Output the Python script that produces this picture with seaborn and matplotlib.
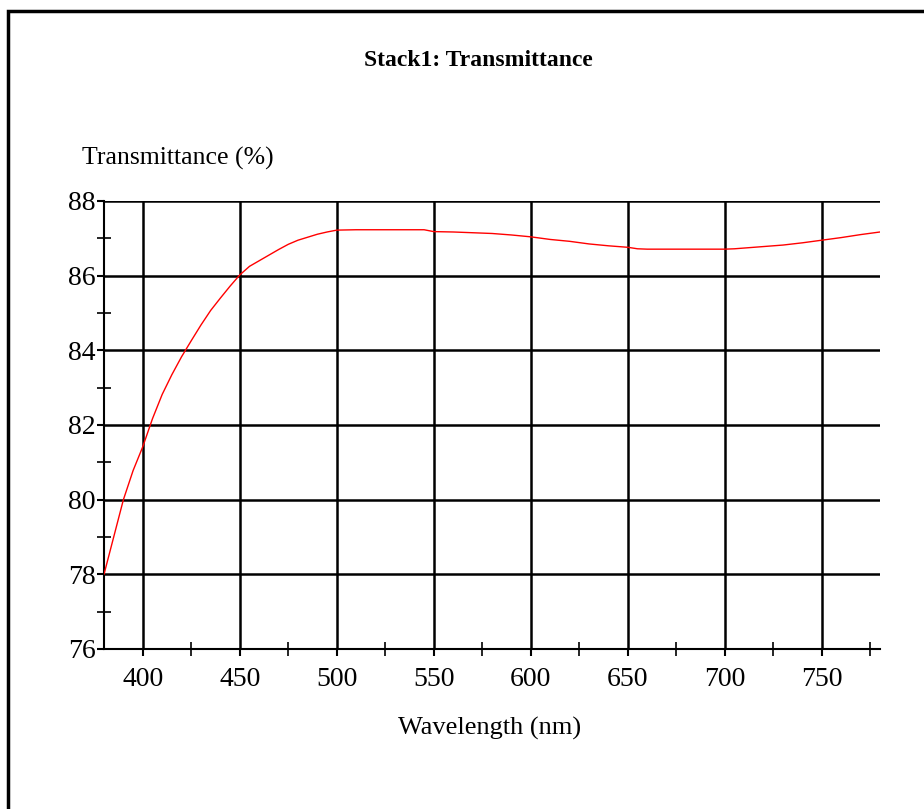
import numpy as np
import pandas as pd
import matplotlib
matplotlib.use("Agg")
import matplotlib.pyplot as plt
from matplotlib.patches import Rectangle
from matplotlib.ticker import MultipleLocator
import seaborn as sns

# transmittance spectrum
wavelength = [380, 385, 390, 395, 400, 405, 410, 415, 420, 425, 430, 435, 440, 445,
              450, 455, 460, 465, 470, 475, 480, 485, 490, 495, 500, 510, 520, 530,
              540, 545, 550, 560, 570, 580, 590, 600, 610, 620, 630, 640, 650, 655,
              660, 670, 680, 690, 700, 705, 710, 720, 730, 740, 750, 760, 770, 780]
transmittance = [78.0, 79.0, 80.0, 80.78, 81.42, 82.17, 82.82, 83.35, 83.83, 84.26,
                 84.68, 85.07, 85.4, 85.72, 86.02, 86.25, 86.4, 86.55, 86.7, 86.84,
                 86.95, 87.03, 87.11, 87.17, 87.22, 87.23, 87.23, 87.23, 87.23, 87.23,
                 87.18, 87.17, 87.15, 87.13, 87.09, 87.04, 86.97, 86.92, 86.85, 86.8,
                 86.76, 86.72, 86.71, 86.71, 86.71, 86.71, 86.71, 86.72, 86.74, 86.78,
                 86.82, 86.88, 86.95, 87.02, 87.1, 87.17]

title = "Stack1: Transmittance"
xlabel = "Wavelength (nm)"
ylabel = "Transmittance (%)"

sns.set_style("white")
plt.rcParams["font.family"] = ["Liberation Serif", "DejaVu Serif"]
plt.rcParams["text.color"] = "black"
plt.rcParams["xtick.color"] = "black"
plt.rcParams["ytick.color"] = "black"

df = pd.DataFrame({"wl": wavelength, "T": transmittance})

fig = plt.figure(figsize=(9.24, 8.09), dpi=100)
ax = fig.add_axes([104 / 924, 1 - 649 / 809, 776 / 924, 448 / 809])

sns.lineplot(data=df, x="wl", y="T", ax=ax, color="red", linewidth=1.0, zorder=3)

ax.set_xlim(380, 780)
ax.set_ylim(76, 88)
ax.xaxis.set_major_locator(MultipleLocator(50))
ax.xaxis.set_minor_locator(MultipleLocator(25))
ax.yaxis.set_major_locator(MultipleLocator(2))
ax.yaxis.set_minor_locator(MultipleLocator(1))

ax.grid(True, which="major", color="black", linewidth=1.8)
ax.set_axisbelow(True)

for side in ["top", "right"]:
    ax.spines[side].set_visible(False)
for side in ["left", "bottom"]:
    ax.spines[side].set_color("black")
    ax.spines[side].set_linewidth(1.5)

ax.tick_params(which="both", bottom=True, left=True, top=False, right=False)
ax.tick_params(which="major", direction="out", length=5, width=1.5, color="black",
               labelsize=20, labelcolor="black")
ax.tick_params(which="minor", direction="inout", length=10, width=1.2, color="black")
ax.tick_params(axis="x", which="major", pad=8)
ax.tick_params(axis="y", which="major", pad=1)

ax.set_xlabel("")
ax.set_ylabel("")

fig.text(490 / 924, 1 - 728 / 809, xlabel, ha="center", va="center", fontsize=19)
fig.text(82 / 924, 1 - 158 / 809, ylabel, ha="left", va="center", fontsize=18.5)
fig.text(478 / 924, 1 - 60 / 809, title, ha="center", va="center", fontsize=17,
         fontweight="bold")

# page frame, only left and top edges fall inside the image
fig.patches.append(Rectangle((8 / 924, -0.1), 1.2, 1.1 - 11 / 809,
                             transform=fig.transFigure, fill=False,
                             edgecolor="black", linewidth=2.5))

fig.savefig("out.png", dpi=100)
plt.close(fig)
